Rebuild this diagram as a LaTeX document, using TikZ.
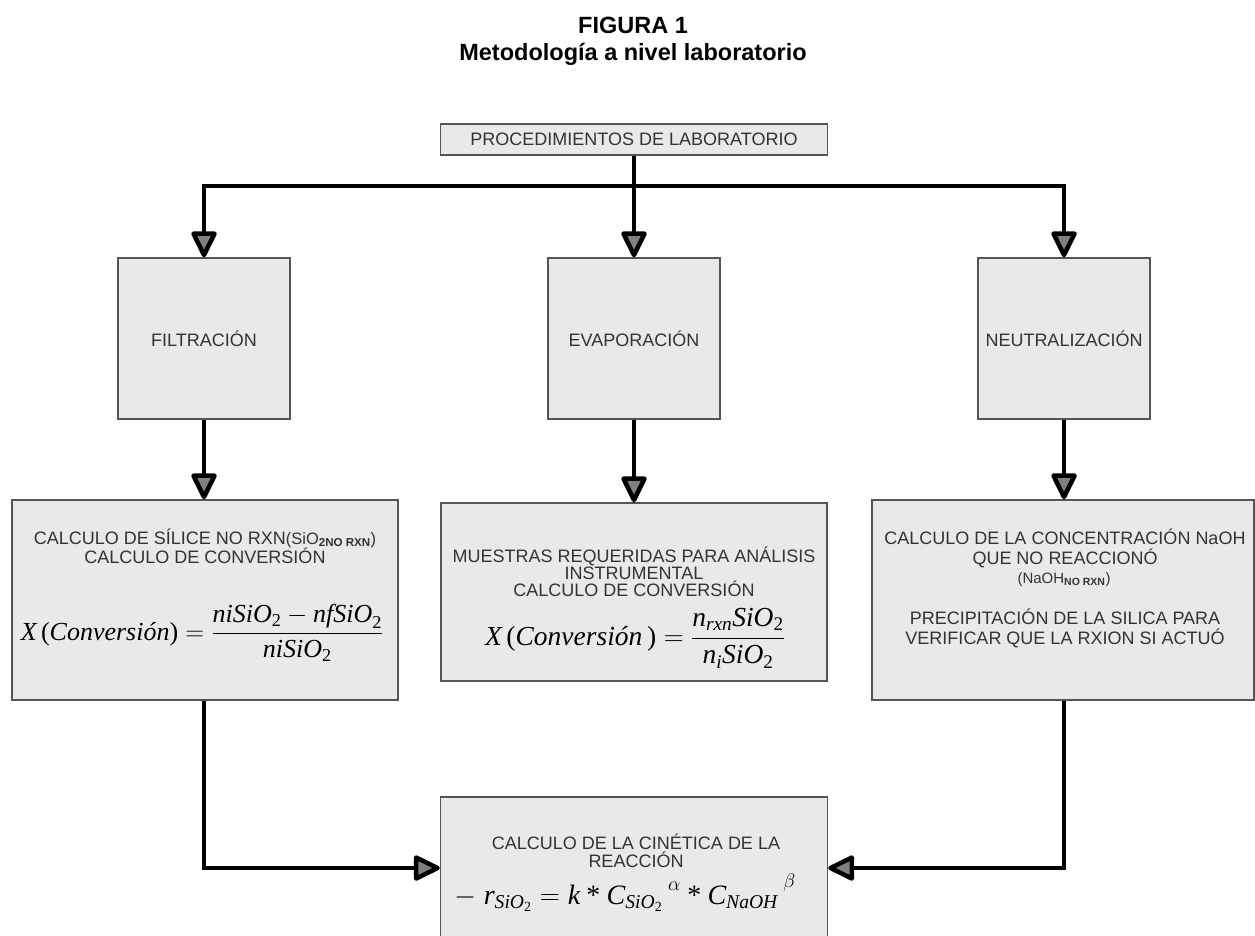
\documentclass[tikz,border=0pt]{standalone}
\usepackage{fix-cm}
\usepackage{amsmath}
\usepackage{fontspec}
\setmainfont{Liberation Sans}
\newfontfamily\tms{Liberation Serif}
\usetikzlibrary{arrows.meta,calc}
\newcommand\ti[1]{\text{\tms\itshape #1}}
\newcommand\tu[1]{\text{\tms #1}}
\definecolor{boxfill}{HTML}{E9E9E9}
\definecolor{boxline}{HTML}{555555}
\definecolor{txt}{HTML}{333333}
\begin{document}
\begin{tikzpicture}[x=1pt,y=-1pt,
  box/.style={draw=boxline,line width=1.4pt,fill=boxfill,inner sep=0pt,rectangle,
    font=\fontsize{18}{18}\selectfont,text=txt},
  lbl/.style={font=\fontsize{18}{18}\selectfont,text=txt,inner sep=0pt,anchor=base},
  frm/.style={font=\fontsize{26}{26}\selectfont,inner sep=0pt,anchor=base},
  ttl/.style={font=\fontsize{23.5}{23.5}\selectfont\bfseries,inner sep=0pt,anchor=base},
  arr/.style={line width=4.5pt,-{Triangle[length=29pt,width=27pt,fill=black!50,line join=round]}}]
\fill[white] (0,0) rectangle (1255,935);
\clip (0,0) rectangle (1255,935);

% title
\node[ttl] (t1) at (633,33) {FIGURA 1};
\node[ttl] (t2) at (633,60) {Metodología a nivel laboratorio};

% boxes
\node[box,minimum width=387pt,minimum height=31pt] (top) at (634,139.5) {PROCEDIMIENTOS DE LABORATORIO};
\node[box,minimum width=172pt,minimum height=161pt] (filt) at (204,338.5) {FILTRACIÓN};
\node[box,minimum width=172pt,minimum height=161pt] (evap) at (634,338.5) {EVAPORACIÓN};
\node[box,minimum width=172pt,minimum height=161pt] (neut) at (1064,338.5) {NEUTRALIZACIÓN};

\node[box,minimum width=386pt,minimum height=200pt] (c1) at (205,600) {};
\node[box,minimum width=386pt,minimum height=178pt] (c2) at (634,592) {};
\node[box,minimum width=382pt,minimum height=200pt] (c3) at (1063,600) {};
\node[box,minimum width=387pt,minimum height=142pt] (kin) at (634,868) {};

% texts of box c1
\node[lbl] (c1a) at (205,544) {CALCULO DE SÍLICE NO RXN{\fontsize{16.5}{16.5}\selectfont(SiO\textsubscript{\bfseries 2NO RXN})}};
\node[lbl] (c1b) at (205,563) {CALCULO DE CONVERSIÓN};
\node[frm] (c1f) at (202,640) {$\ti{X}\,\tu{(}\ti{Conversión}\tu{)} = \dfrac{\ti{niSiO}_{\tu{2}} - \ti{nfSiO}_{\tu{2}}}{\ti{niSiO}_{\tu{2}}}$};

% texts of box c2
\node[lbl] (c2a) at (634,562) {MUESTRAS REQUERIDAS PARA ANÁLISIS};
\node[lbl] (c2b) at (634,579) {INSTRUMENTAL};
\node[lbl] (c2c) at (634,596) {CALCULO DE CONVERSIÓN};
\node[frm,font=\fontsize{27.5}{27.5}\selectfont] (c2f) at (635,645) {$\ti{X}\,\tu{(}\ti{Conversión}\,\tu{)} = \dfrac{\ti{n}_{\ti{rxn}}\ti{SiO}_{\tu{2}}}{\ti{n}_{\ti{i}}\ti{SiO}_{\tu{2}}}$};

% texts of box c3
\node[lbl] (c3a) at (1065,544.5) {CALCULO DE LA CONCENTRACIÓN NaOH};
\node[lbl] (c3b) at (1065,564.5) {QUE NO REACCIONÓ};
\node[lbl] (c3c) at (1064,583.5) {{\fontsize{15}{15}\selectfont(NaOH\textsubscript{\bfseries NO RXN})}};
\node[lbl] (c3d) at (1065,624.5) {PRECIPITACIÓN DE LA SILICA PARA};
\node[lbl] (c3e) at (1065,644.5) {VERIFICAR QUE LA RXION SI ACTUÓ};

% texts of box kin
\node[lbl] (k1) at (636,849.5) {CALCULO DE LA CINÉTICA DE LA};
\node[lbl] (k2) at (636,867.5) {REACCIÓN};
\node[frm,font=\fontsize{28}{28}\selectfont] (kf) at (625,904) {$-\;\ti{r}_{\ti{SiO}_{\tu{2}}} = \ti{k}\mathbin{\tu{*}}\ti{C}_{\ti{SiO}_{\tu{2}}}{}^{\;\raisebox{3pt}{$\scriptstyle\alpha$}}\mathbin{\tu{*}}\ti{C}_{\ti{NaOH}}{}^{\;\raisebox{6pt}{$\scriptstyle\beta$}}$};

% connectors
\coordinate (jc) at (634,186);
\draw[arr] (top.south) -- (evap.north);
\draw[arr] (jc) -| (filt.north);
\draw[arr] (jc) -| (neut.north);
\draw[arr] (filt.south) -- (filt.south |- c1.north);
\draw[arr] (evap.south) -- (evap.south |- c2.north);
\draw[arr] (neut.south) -- (neut.south |- c3.north);
\draw[arr] (filt.south |- c1.south) |- (kin.west);
\draw[arr] (neut.south |- c3.south) |- (kin.east);
\end{tikzpicture}
\end{document}
